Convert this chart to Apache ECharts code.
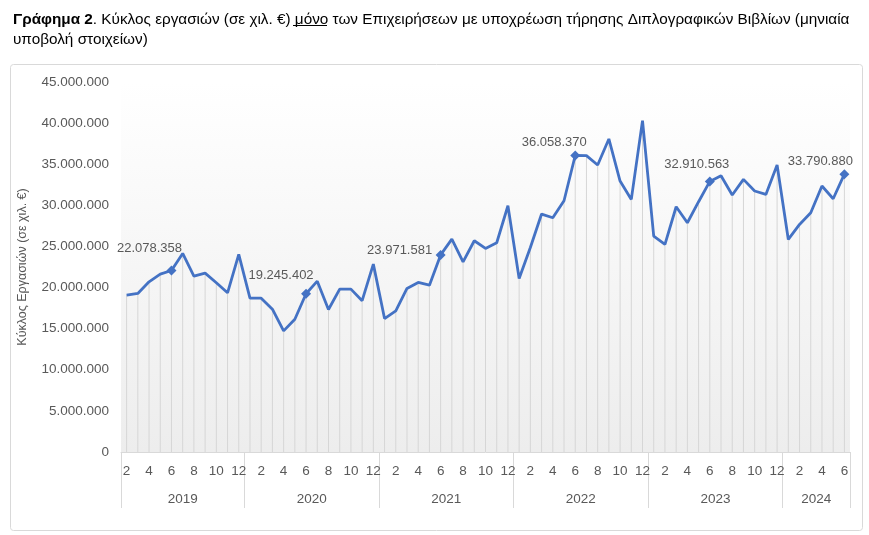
<!DOCTYPE html>
<html><head><meta charset="utf-8">
<script src="https://cdn.jsdelivr.net/npm/echarts@6/dist/echarts.min.js"></script>
<style>html,body{margin:0;padding:0;background:#fff}#c{width:869px;height:535px}</style>
</head><body><div id="c"></div>
<script>
// ---- data ----
const months = [2,3,4,5,6,7,8,9,10,11,12,
  1,2,3,4,5,6,7,8,9,10,11,12,
  1,2,3,4,5,6,7,8,9,10,11,12,
  1,2,3,4,5,6,7,8,9,10,11,12,
  1,2,3,4,5,6,7,8,9,10,11,12,
  1,2,3,4,5,6];
const monthYear = ['2019','2019','2019','2019','2019','2019','2019','2019','2019','2019','2019',
  '2020','2020','2020','2020','2020','2020','2020','2020','2020','2020','2020','2020',
  '2021','2021','2021','2021','2021','2021','2021','2021','2021','2021','2021','2021',
  '2022','2022','2022','2022','2022','2022','2022','2022','2022','2022','2022','2022',
  '2023','2023','2023','2023','2023','2023','2023','2023','2023','2023','2023','2023',
  '2024','2024','2024','2024','2024','2024'];
const turnover = [19070000,19280000,20700000,21630000,22078358,24150000,21390000,21750000,20580000,19360000,24030000,
  18710000,18710000,17370000,14730000,16150000,19245402,20780000,17330000,19810000,19810000,18400000,22850000,
  16230000,17170000,19890000,20620000,20290000,23971581,25890000,23130000,25690000,24760000,25450000,29950000,
  21100000,24880000,28940000,28490000,30560000,36058370,36040000,34900000,38070000,32950000,30720000,40300000,
  26260000,25240000,29830000,27880000,30440000,32910563,33600000,31250000,33160000,31740000,31330000,34900000,
  25850000,27680000,29100000,32350000,30800000,33790880];
const yTickLabels = ['0','5.000.000','10.000.000','15.000.000','20.000.000','25.000.000','30.000.000','35.000.000','40.000.000','45.000.000'];
const labelMonth = 6;

// ---- styling ----
const labelOffsets = [[-22,-6],[-25,-2],[-41,12],[-21,3],[-13,0],[-24,4]];
const FONT = 'Liberation Sans';
const GREY = '#595959';
const BLUE = '#4472C4';

function fmt(v){ return String(Math.round(v)).replace(/\B(?=(\d{3})+(?!\d))/g,'.'); }

const boundaries=[0], centers=[], centerYear=[];
let start=0;
for(let i=1;i<=monthYear.length;i++){
  if(i===monthYear.length || monthYear[i]!==monthYear[i-1]){
    boundaries.push(i); centers.push((start+i)/2); centerYear.push(monthYear[i-1]); start=i;
  }
}

let k=0;
const lineData = turnover.map((v,i)=>{
  if(months[i]===labelMonth){
    const off = labelOffsets[k++];
    return {value:v, symbol:'diamond', symbolSize:10,
      label:{show:true, position:'top', offset:off, formatter:p=>fmt(p.value), color:GREY, fontSize:13, fontFamily:FONT}};
  }
  return {value:v, symbol:'none', symbolSize:0};
});

const chart = echarts.init(document.getElementById('c'));
chart.setOption({
  animation:false,
  textStyle:{fontFamily:FONT},
  title:{
    left:8, top:5,
    text:'{b|Γράφημα 2}. Κύκλος εργασιών (σε χιλ. €) μόνο των Επιχειρήσεων με υποχρέωση τήρησης Διπλογραφικών Βιβλίων (μηνιαία\nυποβολή στοιχείων)',
    textStyle:{fontFamily:FONT, fontSize:15.3, fontWeight:'normal', color:'#000', lineHeight:20,
      rich:{b:{fontWeight:'bold', fontFamily:FONT, fontSize:15.3, color:'#000'}}}
  },
  graphic:[
    {type:'rect', left:8, top:62, shape:{width:852, height:466, r:3}, style:{fill:'none', stroke:'#d9d9d9', lineWidth:1}, silent:true},
    {type:'line', shape:{x1:293, y1:25.5, x2:327, y2:25.5}, style:{stroke:'#000', lineWidth:1}, silent:true}
  ],
  grid:{left:121, right:19, top:82, bottom:83, show:true, borderWidth:0,
    backgroundColor:new echarts.graphic.LinearGradient(0,0,0,1,[{offset:0,color:'#ffffff'},{offset:1,color:'#ededed'}])},
  xAxis:[{
    type:'category', data:months.map(String), boundaryGap:true,
    axisLine:{lineStyle:{color:'#d9d9d9'}}, axisTick:{show:false},
    axisLabel:{interval:(i,v)=>months[i]%2===0, margin:12, color:GREY, fontSize:13.5, fontFamily:FONT}
  },{
    type:'value', min:0, max:months.length, position:'bottom',
    axisLine:{show:false}, splitLine:{show:false},
    axisTick:{show:true, customValues:boundaries, length:56, lineStyle:{color:'#d9d9d9'}},
    axisLabel:{customValues:centers, margin:40, color:GREY, fontSize:13.5, fontFamily:FONT,
      formatter:v=>{const j=centers.indexOf(v); return j>=0?centerYear[j]:'';}}
  }],
  yAxis:{
    type:'value', min:0, max:45000000, interval:5000000,
    name:'Κύκλος Εργασιών (σε χιλ. €)', nameLocation:'middle', nameGap:92,
    nameTextStyle:{color:GREY, fontSize:12.5, fontFamily:FONT},
    axisLine:{show:false}, axisTick:{show:false}, splitLine:{show:false},
    axisLabel:{margin:12, color:GREY, fontSize:13.5, fontFamily:FONT, formatter:(v)=>yTickLabels[Math.round(v/5000000)]}
  },
  series:[{
    type:'bar', data:turnover, barWidth:1, itemStyle:{color:'#d6d6d6'}, silent:true, z:1
  },{
    type:'line', data:lineData, showAllSymbol:true, symbol:'none',
    lineStyle:{color:BLUE, width:2.8}, itemStyle:{color:BLUE}, z:3
  }]
});
</script></body></html>
